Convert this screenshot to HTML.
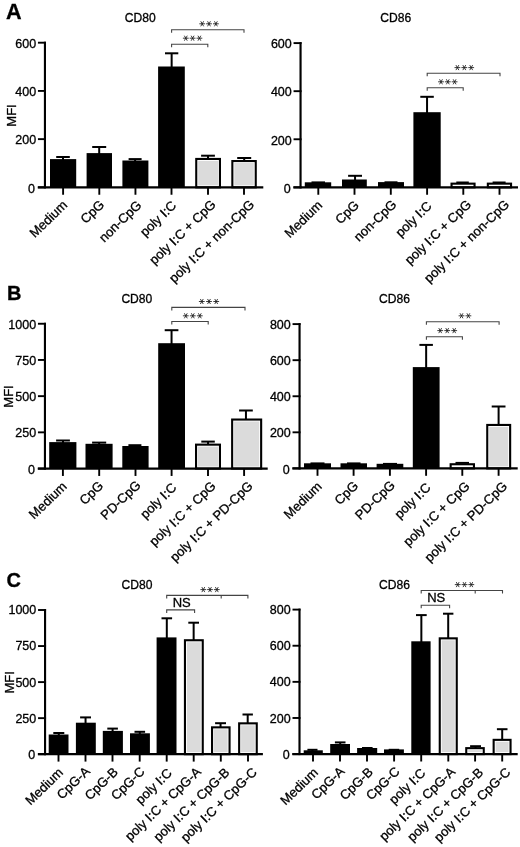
<!DOCTYPE html>
<html><head><meta charset="utf-8"><style>
html,body{margin:0;padding:0;background:#fff;}
body{width:520px;height:847px;overflow:hidden;}
svg{display:block;font-family:"Liberation Sans",sans-serif;will-change:transform;}
text{stroke:#000;stroke-width:0.3px;}
</style></head><body>
<svg width="520" height="847" viewBox="0 0 520 847">
<rect width="520" height="847" fill="#fff"/>
<line x1="44.95" y1="41.70" x2="44.95" y2="188.35" stroke="#000" stroke-width="2.15"/>
<line x1="37.95" y1="187.35" x2="45.95" y2="187.35" stroke="#000" stroke-width="1.9"/>
<text x="35.05" y="193.15" font-size="12.5" text-anchor="end" font-weight="normal" fill="#000" >0</text>
<line x1="37.95" y1="139.13" x2="45.95" y2="139.13" stroke="#000" stroke-width="1.9"/>
<text x="36.15" y="144.43" font-size="12.5" text-anchor="end" font-weight="normal" fill="#000" >200</text>
<line x1="37.95" y1="90.92" x2="45.95" y2="90.92" stroke="#000" stroke-width="1.9"/>
<text x="36.15" y="96.22" font-size="12.5" text-anchor="end" font-weight="normal" fill="#000" >400</text>
<line x1="37.95" y1="42.70" x2="45.95" y2="42.70" stroke="#000" stroke-width="1.9"/>
<text x="36.15" y="48.00" font-size="12.5" text-anchor="end" font-weight="normal" fill="#000" >600</text>
<line x1="63.00" y1="157.00" x2="63.00" y2="160.10" stroke="#000" stroke-width="2.0"/>
<line x1="56.20" y1="157.00" x2="69.80" y2="157.00" stroke="#000" stroke-width="2.0"/>
<rect x="50.00" y="159.10" width="26.20" height="28.25" fill="#000"/>
<line x1="99.20" y1="147.00" x2="99.20" y2="154.10" stroke="#000" stroke-width="2.0"/>
<line x1="92.20" y1="147.00" x2="106.20" y2="147.00" stroke="#000" stroke-width="2.0"/>
<rect x="86.60" y="153.10" width="25.40" height="34.25" fill="#000"/>
<line x1="135.10" y1="159.10" x2="135.10" y2="161.50" stroke="#000" stroke-width="2.0"/>
<line x1="128.60" y1="159.10" x2="141.60" y2="159.10" stroke="#000" stroke-width="2.0"/>
<rect x="122.40" y="160.50" width="26.00" height="26.85" fill="#000"/>
<line x1="171.65" y1="53.30" x2="171.65" y2="67.50" stroke="#000" stroke-width="2.0"/>
<line x1="165.00" y1="53.30" x2="178.30" y2="53.30" stroke="#000" stroke-width="2.0"/>
<rect x="158.10" y="66.50" width="26.70" height="120.85" fill="#000"/>
<line x1="208.00" y1="155.70" x2="208.00" y2="158.90" stroke="#000" stroke-width="2.0"/>
<line x1="201.10" y1="155.70" x2="214.90" y2="155.70" stroke="#000" stroke-width="2.0"/>
<rect x="196.25" y="158.95" width="23.70" height="28.40" fill="#fff" stroke="#000" stroke-width="2.1"/>
<rect x="198.20" y="160.90" width="19.80" height="24.45" fill="#dbdbdb"/>
<line x1="244.20" y1="158.00" x2="244.20" y2="161.00" stroke="#000" stroke-width="2.0"/>
<line x1="237.20" y1="158.00" x2="251.20" y2="158.00" stroke="#000" stroke-width="2.0"/>
<rect x="232.35" y="161.05" width="23.40" height="26.30" fill="#fff" stroke="#000" stroke-width="2.1"/>
<rect x="234.30" y="163.00" width="19.50" height="22.35" fill="#dbdbdb"/>
<line x1="37.75" y1="187.35" x2="263.30" y2="187.35" stroke="#000" stroke-width="2.2"/>
<line x1="63.10" y1="187.35" x2="63.10" y2="194.75" stroke="#000" stroke-width="1.9"/>
<line x1="99.30" y1="187.35" x2="99.30" y2="194.75" stroke="#000" stroke-width="1.9"/>
<line x1="135.45" y1="187.35" x2="135.45" y2="194.75" stroke="#000" stroke-width="1.9"/>
<line x1="171.50" y1="187.35" x2="171.50" y2="194.75" stroke="#000" stroke-width="1.9"/>
<line x1="208.00" y1="187.35" x2="208.00" y2="194.75" stroke="#000" stroke-width="1.9"/>
<line x1="244.00" y1="187.35" x2="244.00" y2="194.75" stroke="#000" stroke-width="1.9"/>
<text transform="translate(61.55,199.10) rotate(-44.0)" font-size="13.1" text-anchor="end" dominant-baseline="hanging">Medium</text>
<text transform="translate(98.50,198.75) rotate(-44.0)" font-size="13.1" text-anchor="end" dominant-baseline="hanging">CpG</text>
<text transform="translate(135.70,199.15) rotate(-44.0)" font-size="13.1" text-anchor="end" dominant-baseline="hanging">non-CpG</text>
<text transform="translate(170.50,199.55) rotate(-44.0)" font-size="13.1" text-anchor="end" dominant-baseline="hanging">poly I:C</text>
<text transform="translate(209.90,198.55) rotate(-44.0)" font-size="13.1" text-anchor="end" dominant-baseline="hanging">poly I:C + CpG</text>
<text transform="translate(248.40,198.55) rotate(-44.0)" font-size="13.1" text-anchor="end" dominant-baseline="hanging">poly I:C + non-CpG</text>
<text x="124.70" y="21.50" font-size="12.1" text-anchor="start" font-weight="normal" fill="#000" >CD80</text>
<text transform="translate(15.50,115.50) rotate(-90)" font-size="13.0" text-anchor="middle">MFI</text>
<path d="M171.60,32.80 V29.80 H244.00 V32.80" fill="none" stroke="#444" stroke-width="1.1"/>
<path d="M171.60,47.30 V44.30 H207.80 V47.30" fill="none" stroke="#444" stroke-width="1.1"/>
<path d="M199.30,23.80L205.10,23.80M200.75,21.29L203.65,26.31M203.65,21.29L200.75,26.31" stroke="#1a1a1a" stroke-width="0.85" fill="none"/>
<path d="M206.10,23.80L211.90,23.80M207.55,21.29L210.45,26.31M210.45,21.29L207.55,26.31" stroke="#1a1a1a" stroke-width="0.85" fill="none"/>
<path d="M213.00,23.80L218.80,23.80M214.45,21.29L217.35,26.31M217.35,21.29L214.45,26.31" stroke="#1a1a1a" stroke-width="0.85" fill="none"/>
<path d="M182.90,38.20L188.70,38.20M184.35,35.69L187.25,40.71M187.25,35.69L184.35,40.71" stroke="#1a1a1a" stroke-width="0.85" fill="none"/>
<path d="M189.70,38.20L195.50,38.20M191.15,35.69L194.05,40.71M194.05,35.69L191.15,40.71" stroke="#1a1a1a" stroke-width="0.85" fill="none"/>
<path d="M196.50,38.20L202.30,38.20M197.95,35.69L200.85,40.71M200.85,35.69L197.95,40.71" stroke="#1a1a1a" stroke-width="0.85" fill="none"/>
<line x1="300.55" y1="42.10" x2="300.55" y2="188.35" stroke="#000" stroke-width="2.15"/>
<line x1="293.55" y1="187.35" x2="301.55" y2="187.35" stroke="#000" stroke-width="1.9"/>
<text x="290.65" y="193.15" font-size="12.5" text-anchor="end" font-weight="normal" fill="#000" >0</text>
<line x1="293.55" y1="139.27" x2="301.55" y2="139.27" stroke="#000" stroke-width="1.9"/>
<text x="291.75" y="144.57" font-size="12.5" text-anchor="end" font-weight="normal" fill="#000" >200</text>
<line x1="293.55" y1="91.18" x2="301.55" y2="91.18" stroke="#000" stroke-width="1.9"/>
<text x="291.75" y="96.48" font-size="12.5" text-anchor="end" font-weight="normal" fill="#000" >400</text>
<line x1="293.55" y1="43.10" x2="301.55" y2="43.10" stroke="#000" stroke-width="1.9"/>
<text x="291.75" y="48.40" font-size="12.5" text-anchor="end" font-weight="normal" fill="#000" >600</text>
<line x1="311.50" y1="182.40" x2="325.00" y2="182.40" stroke="#000" stroke-width="2.0"/>
<rect x="304.80" y="182.30" width="26.40" height="5.05" fill="#000"/>
<line x1="355.05" y1="175.80" x2="355.05" y2="180.50" stroke="#000" stroke-width="2.0"/>
<line x1="348.10" y1="175.80" x2="362.00" y2="175.80" stroke="#000" stroke-width="2.0"/>
<rect x="342.00" y="179.50" width="24.80" height="7.85" fill="#000"/>
<line x1="384.50" y1="182.30" x2="397.50" y2="182.30" stroke="#000" stroke-width="2.0"/>
<rect x="378.00" y="182.10" width="26.00" height="5.25" fill="#000"/>
<line x1="427.05" y1="96.80" x2="427.05" y2="113.20" stroke="#000" stroke-width="2.0"/>
<line x1="420.30" y1="96.80" x2="433.80" y2="96.80" stroke="#000" stroke-width="2.0"/>
<rect x="413.40" y="112.20" width="27.30" height="75.15" fill="#000"/>
<line x1="456.30" y1="182.50" x2="468.80" y2="182.50" stroke="#000" stroke-width="2.0"/>
<rect x="451.55" y="183.65" width="23.00" height="3.70" fill="#fff" stroke="#000" stroke-width="2.1"/>
<line x1="492.60" y1="182.50" x2="505.60" y2="182.50" stroke="#000" stroke-width="2.0"/>
<rect x="487.85" y="183.65" width="23.20" height="3.70" fill="#fff" stroke="#000" stroke-width="2.1"/>
<line x1="293.35" y1="187.35" x2="518.00" y2="187.35" stroke="#000" stroke-width="2.2"/>
<line x1="318.30" y1="187.35" x2="318.30" y2="194.75" stroke="#000" stroke-width="1.9"/>
<line x1="354.50" y1="187.35" x2="354.50" y2="194.75" stroke="#000" stroke-width="1.9"/>
<line x1="390.80" y1="187.35" x2="390.80" y2="194.75" stroke="#000" stroke-width="1.9"/>
<line x1="427.10" y1="187.35" x2="427.10" y2="194.75" stroke="#000" stroke-width="1.9"/>
<line x1="463.30" y1="187.35" x2="463.30" y2="194.75" stroke="#000" stroke-width="1.9"/>
<line x1="499.50" y1="187.35" x2="499.50" y2="194.75" stroke="#000" stroke-width="1.9"/>
<text transform="translate(316.55,199.30) rotate(-44.0)" font-size="13.1" text-anchor="end" dominant-baseline="hanging">Medium</text>
<text transform="translate(353.20,199.25) rotate(-44.0)" font-size="13.1" text-anchor="end" dominant-baseline="hanging">CpG</text>
<text transform="translate(390.60,198.55) rotate(-44.0)" font-size="13.1" text-anchor="end" dominant-baseline="hanging">non-CpG</text>
<text transform="translate(425.90,200.05) rotate(-44.0)" font-size="13.1" text-anchor="end" dominant-baseline="hanging">poly I:C</text>
<text transform="translate(465.30,198.55) rotate(-44.0)" font-size="13.1" text-anchor="end" dominant-baseline="hanging">poly I:C + CpG</text>
<text transform="translate(503.40,198.55) rotate(-44.0)" font-size="13.1" text-anchor="end" dominant-baseline="hanging">poly I:C + non-CpG</text>
<text x="380.30" y="21.50" font-size="12.1" text-anchor="start" font-weight="normal" fill="#000" >CD86</text>
<path d="M427.20,76.30 V73.30 H500.00 V76.30" fill="none" stroke="#444" stroke-width="1.1"/>
<path d="M427.20,90.70 V87.70 H463.20 V90.70" fill="none" stroke="#444" stroke-width="1.1"/>
<path d="M454.50,67.60L460.30,67.60M455.95,65.09L458.85,70.11M458.85,65.09L455.95,70.11" stroke="#1a1a1a" stroke-width="0.85" fill="none"/>
<path d="M461.40,67.60L467.20,67.60M462.85,65.09L465.75,70.11M465.75,65.09L462.85,70.11" stroke="#1a1a1a" stroke-width="0.85" fill="none"/>
<path d="M468.30,67.60L474.10,67.60M469.75,65.09L472.65,70.11M472.65,65.09L469.75,70.11" stroke="#1a1a1a" stroke-width="0.85" fill="none"/>
<path d="M438.10,81.80L443.90,81.80M439.55,79.29L442.45,84.31M442.45,79.29L439.55,84.31" stroke="#1a1a1a" stroke-width="0.85" fill="none"/>
<path d="M444.90,81.80L450.70,81.80M446.35,79.29L449.25,84.31M449.25,79.29L446.35,84.31" stroke="#1a1a1a" stroke-width="0.85" fill="none"/>
<path d="M451.70,81.80L457.50,81.80M453.15,79.29L456.05,84.31M456.05,79.29L453.15,84.31" stroke="#1a1a1a" stroke-width="0.85" fill="none"/>
<text x="6.10" y="18.60" font-size="21.6" text-anchor="start" font-weight="bold" fill="#000" >A</text>
<line x1="44.95" y1="322.75" x2="44.95" y2="469.55" stroke="#000" stroke-width="2.15"/>
<line x1="37.95" y1="468.55" x2="45.95" y2="468.55" stroke="#000" stroke-width="1.9"/>
<text x="35.05" y="473.80" font-size="12.5" text-anchor="end" font-weight="normal" fill="#000" >0</text>
<line x1="37.95" y1="432.35" x2="45.95" y2="432.35" stroke="#000" stroke-width="1.9"/>
<text x="36.15" y="437.10" font-size="12.5" text-anchor="end" font-weight="normal" fill="#000" >250</text>
<line x1="37.95" y1="396.15" x2="45.95" y2="396.15" stroke="#000" stroke-width="1.9"/>
<text x="36.15" y="400.90" font-size="12.5" text-anchor="end" font-weight="normal" fill="#000" >500</text>
<line x1="37.95" y1="359.95" x2="45.95" y2="359.95" stroke="#000" stroke-width="1.9"/>
<text x="36.15" y="364.70" font-size="12.5" text-anchor="end" font-weight="normal" fill="#000" >750</text>
<line x1="37.95" y1="323.75" x2="45.95" y2="323.75" stroke="#000" stroke-width="1.9"/>
<text x="36.15" y="328.50" font-size="12.5" text-anchor="end" font-weight="normal" fill="#000" >1000</text>
<line x1="63.00" y1="440.50" x2="63.00" y2="443.10" stroke="#000" stroke-width="2.0"/>
<line x1="56.10" y1="440.50" x2="69.90" y2="440.50" stroke="#000" stroke-width="2.0"/>
<rect x="49.20" y="442.10" width="27.20" height="26.45" fill="#000"/>
<line x1="99.15" y1="442.60" x2="99.15" y2="444.80" stroke="#000" stroke-width="2.0"/>
<line x1="92.10" y1="442.60" x2="106.20" y2="442.60" stroke="#000" stroke-width="2.0"/>
<rect x="85.50" y="443.80" width="27.10" height="24.75" fill="#000"/>
<line x1="134.90" y1="445.20" x2="134.90" y2="447.00" stroke="#000" stroke-width="2.0"/>
<line x1="128.40" y1="445.20" x2="141.40" y2="445.20" stroke="#000" stroke-width="2.0"/>
<rect x="122.30" y="446.00" width="26.30" height="22.55" fill="#000"/>
<line x1="171.55" y1="330.20" x2="171.55" y2="344.20" stroke="#000" stroke-width="2.0"/>
<line x1="164.70" y1="330.20" x2="178.40" y2="330.20" stroke="#000" stroke-width="2.0"/>
<rect x="158.20" y="343.20" width="26.80" height="125.35" fill="#000"/>
<line x1="208.05" y1="441.60" x2="208.05" y2="444.60" stroke="#000" stroke-width="2.0"/>
<line x1="201.30" y1="441.60" x2="214.80" y2="441.60" stroke="#000" stroke-width="2.0"/>
<rect x="196.05" y="444.65" width="23.90" height="23.90" fill="#fff" stroke="#000" stroke-width="2.1"/>
<rect x="198.00" y="446.60" width="20.00" height="19.95" fill="#dbdbdb"/>
<line x1="245.95" y1="410.50" x2="245.95" y2="419.50" stroke="#000" stroke-width="2.0"/>
<line x1="239.10" y1="410.50" x2="252.80" y2="410.50" stroke="#000" stroke-width="2.0"/>
<rect x="232.15" y="419.55" width="29.00" height="49.00" fill="#fff" stroke="#000" stroke-width="2.1"/>
<rect x="234.10" y="421.50" width="25.10" height="45.05" fill="#dbdbdb"/>
<line x1="37.75" y1="468.55" x2="267.70" y2="468.55" stroke="#000" stroke-width="2.2"/>
<line x1="62.90" y1="468.55" x2="62.90" y2="475.95" stroke="#000" stroke-width="1.9"/>
<line x1="99.20" y1="468.55" x2="99.20" y2="475.95" stroke="#000" stroke-width="1.9"/>
<line x1="135.50" y1="468.55" x2="135.50" y2="475.95" stroke="#000" stroke-width="1.9"/>
<line x1="171.60" y1="468.55" x2="171.60" y2="475.95" stroke="#000" stroke-width="1.9"/>
<line x1="208.00" y1="468.55" x2="208.00" y2="475.95" stroke="#000" stroke-width="1.9"/>
<line x1="244.10" y1="468.55" x2="244.10" y2="475.95" stroke="#000" stroke-width="1.9"/>
<text transform="translate(60.95,480.50) rotate(-44.0)" font-size="13.1" text-anchor="end" dominant-baseline="hanging">Medium</text>
<text transform="translate(97.50,479.85) rotate(-44.0)" font-size="13.1" text-anchor="end" dominant-baseline="hanging">CpG</text>
<text transform="translate(134.80,479.15) rotate(-44.0)" font-size="13.1" text-anchor="end" dominant-baseline="hanging">PD-CpG</text>
<text transform="translate(170.70,481.65) rotate(-44.0)" font-size="13.1" text-anchor="end" dominant-baseline="hanging">poly I:C</text>
<text transform="translate(210.00,480.05) rotate(-44.0)" font-size="13.1" text-anchor="end" dominant-baseline="hanging">poly I:C + CpG</text>
<text transform="translate(246.90,480.05) rotate(-44.0)" font-size="13.1" text-anchor="end" dominant-baseline="hanging">poly I:C + PD-CpG</text>
<text x="121.40" y="303.10" font-size="12.1" text-anchor="start" font-weight="normal" fill="#000" >CD80</text>
<text transform="translate(13.00,396.50) rotate(-90)" font-size="13.0" text-anchor="middle">MFI</text>
<path d="M171.80,310.40 V307.40 H245.00 V310.40" fill="none" stroke="#444" stroke-width="1.1"/>
<path d="M171.80,324.50 V321.50 H208.20 V324.50" fill="none" stroke="#444" stroke-width="1.1"/>
<path d="M198.90,301.50L204.70,301.50M200.35,298.99L203.25,304.01M203.25,298.99L200.35,304.01" stroke="#1a1a1a" stroke-width="0.85" fill="none"/>
<path d="M206.10,301.50L211.90,301.50M207.55,298.99L210.45,304.01M210.45,298.99L207.55,304.01" stroke="#1a1a1a" stroke-width="0.85" fill="none"/>
<path d="M213.30,301.50L219.10,301.50M214.75,298.99L217.65,304.01M217.65,298.99L214.75,304.01" stroke="#1a1a1a" stroke-width="0.85" fill="none"/>
<path d="M182.90,315.80L188.70,315.80M184.35,313.29L187.25,318.31M187.25,313.29L184.35,318.31" stroke="#1a1a1a" stroke-width="0.85" fill="none"/>
<path d="M189.90,315.80L195.70,315.80M191.35,313.29L194.25,318.31M194.25,313.29L191.35,318.31" stroke="#1a1a1a" stroke-width="0.85" fill="none"/>
<path d="M196.90,315.80L202.70,315.80M198.35,313.29L201.25,318.31M201.25,313.29L198.35,318.31" stroke="#1a1a1a" stroke-width="0.85" fill="none"/>
<line x1="299.55" y1="323.10" x2="299.55" y2="469.40" stroke="#000" stroke-width="2.15"/>
<line x1="292.55" y1="468.40" x2="300.55" y2="468.40" stroke="#000" stroke-width="1.9"/>
<text x="289.65" y="473.65" font-size="12.5" text-anchor="end" font-weight="normal" fill="#000" >0</text>
<line x1="292.55" y1="432.32" x2="300.55" y2="432.32" stroke="#000" stroke-width="1.9"/>
<text x="290.75" y="437.07" font-size="12.5" text-anchor="end" font-weight="normal" fill="#000" >200</text>
<line x1="292.55" y1="396.25" x2="300.55" y2="396.25" stroke="#000" stroke-width="1.9"/>
<text x="290.75" y="401.00" font-size="12.5" text-anchor="end" font-weight="normal" fill="#000" >400</text>
<line x1="292.55" y1="360.18" x2="300.55" y2="360.18" stroke="#000" stroke-width="1.9"/>
<text x="290.75" y="364.93" font-size="12.5" text-anchor="end" font-weight="normal" fill="#000" >600</text>
<line x1="292.55" y1="324.10" x2="300.55" y2="324.10" stroke="#000" stroke-width="1.9"/>
<text x="290.75" y="328.85" font-size="12.5" text-anchor="end" font-weight="normal" fill="#000" >800</text>
<line x1="310.50" y1="463.40" x2="324.50" y2="463.40" stroke="#000" stroke-width="2.0"/>
<rect x="304.00" y="463.30" width="27.00" height="5.10" fill="#000"/>
<line x1="347.00" y1="463.40" x2="360.50" y2="463.40" stroke="#000" stroke-width="2.0"/>
<rect x="340.50" y="463.30" width="26.50" height="5.10" fill="#000"/>
<line x1="383.00" y1="463.90" x2="397.00" y2="463.90" stroke="#000" stroke-width="2.0"/>
<rect x="376.60" y="463.80" width="26.70" height="4.60" fill="#000"/>
<line x1="426.15" y1="344.90" x2="426.15" y2="368.10" stroke="#000" stroke-width="2.0"/>
<line x1="419.40" y1="344.90" x2="432.90" y2="344.90" stroke="#000" stroke-width="2.0"/>
<rect x="412.80" y="367.10" width="26.80" height="101.30" fill="#000"/>
<line x1="455.50" y1="462.90" x2="469.00" y2="462.90" stroke="#000" stroke-width="2.0"/>
<rect x="450.65" y="464.25" width="23.30" height="4.15" fill="#fff" stroke="#000" stroke-width="2.1"/>
<line x1="498.60" y1="406.50" x2="498.60" y2="424.90" stroke="#000" stroke-width="2.0"/>
<line x1="491.70" y1="406.50" x2="505.50" y2="406.50" stroke="#000" stroke-width="2.0"/>
<rect x="487.25" y="424.95" width="22.90" height="43.45" fill="#fff" stroke="#000" stroke-width="2.1"/>
<rect x="489.20" y="426.90" width="19.00" height="39.50" fill="#dbdbdb"/>
<line x1="292.35" y1="468.40" x2="517.70" y2="468.40" stroke="#000" stroke-width="2.2"/>
<line x1="317.50" y1="468.40" x2="317.50" y2="475.80" stroke="#000" stroke-width="1.9"/>
<line x1="353.60" y1="468.40" x2="353.60" y2="475.80" stroke="#000" stroke-width="1.9"/>
<line x1="389.90" y1="468.40" x2="389.90" y2="475.80" stroke="#000" stroke-width="1.9"/>
<line x1="426.10" y1="468.40" x2="426.10" y2="475.80" stroke="#000" stroke-width="1.9"/>
<line x1="462.30" y1="468.40" x2="462.30" y2="475.80" stroke="#000" stroke-width="1.9"/>
<line x1="498.60" y1="468.40" x2="498.60" y2="475.80" stroke="#000" stroke-width="1.9"/>
<text transform="translate(315.95,480.50) rotate(-44.0)" font-size="13.1" text-anchor="end" dominant-baseline="hanging">Medium</text>
<text transform="translate(352.50,479.85) rotate(-44.0)" font-size="13.1" text-anchor="end" dominant-baseline="hanging">CpG</text>
<text transform="translate(389.10,479.15) rotate(-44.0)" font-size="13.1" text-anchor="end" dominant-baseline="hanging">PD-CpG</text>
<text transform="translate(424.90,481.65) rotate(-44.0)" font-size="13.1" text-anchor="end" dominant-baseline="hanging">poly I:C</text>
<text transform="translate(463.80,480.25) rotate(-44.0)" font-size="13.1" text-anchor="end" dominant-baseline="hanging">poly I:C + CpG</text>
<text transform="translate(501.30,480.25) rotate(-44.0)" font-size="13.1" text-anchor="end" dominant-baseline="hanging">poly I:C + PD-CpG</text>
<text x="379.00" y="302.80" font-size="12.1" text-anchor="start" font-weight="normal" fill="#000" >CD86</text>
<path d="M426.40,324.80 V321.80 H499.10 V324.80" fill="none" stroke="#444" stroke-width="1.1"/>
<path d="M426.40,339.70 V336.70 H462.40 V339.70" fill="none" stroke="#444" stroke-width="1.1"/>
<path d="M458.60,315.80L464.40,315.80M460.05,313.29L462.95,318.31M462.95,313.29L460.05,318.31" stroke="#1a1a1a" stroke-width="0.85" fill="none"/>
<path d="M465.50,315.80L471.30,315.80M466.95,313.29L469.85,318.31M469.85,313.29L466.95,318.31" stroke="#1a1a1a" stroke-width="0.85" fill="none"/>
<path d="M437.30,330.60L443.10,330.60M438.75,328.09L441.65,333.11M441.65,328.09L438.75,333.11" stroke="#1a1a1a" stroke-width="0.85" fill="none"/>
<path d="M444.30,330.60L450.10,330.60M445.75,328.09L448.65,333.11M448.65,328.09L445.75,333.11" stroke="#1a1a1a" stroke-width="0.85" fill="none"/>
<path d="M451.30,330.60L457.10,330.60M452.75,328.09L455.65,333.11M455.65,328.09L452.75,333.11" stroke="#1a1a1a" stroke-width="0.85" fill="none"/>
<text x="7.00" y="300.30" font-size="20" text-anchor="start" font-weight="bold" fill="#000" >B</text>
<line x1="45.05" y1="609.00" x2="45.05" y2="755.20" stroke="#000" stroke-width="2.15"/>
<line x1="38.05" y1="754.20" x2="46.05" y2="754.20" stroke="#000" stroke-width="1.9"/>
<text x="35.15" y="759.10" font-size="12.5" text-anchor="end" font-weight="normal" fill="#000" >0</text>
<line x1="38.05" y1="718.15" x2="46.05" y2="718.15" stroke="#000" stroke-width="1.9"/>
<text x="36.25" y="722.55" font-size="12.5" text-anchor="end" font-weight="normal" fill="#000" >250</text>
<line x1="38.05" y1="682.10" x2="46.05" y2="682.10" stroke="#000" stroke-width="1.9"/>
<text x="36.25" y="686.50" font-size="12.5" text-anchor="end" font-weight="normal" fill="#000" >500</text>
<line x1="38.05" y1="646.05" x2="46.05" y2="646.05" stroke="#000" stroke-width="1.9"/>
<text x="36.25" y="650.45" font-size="12.5" text-anchor="end" font-weight="normal" fill="#000" >750</text>
<line x1="38.05" y1="610.00" x2="46.05" y2="610.00" stroke="#000" stroke-width="1.9"/>
<text x="36.25" y="614.40" font-size="12.5" text-anchor="end" font-weight="normal" fill="#000" >1000</text>
<line x1="58.80" y1="733.00" x2="58.80" y2="735.50" stroke="#000" stroke-width="2.0"/>
<line x1="53.30" y1="733.00" x2="64.30" y2="733.00" stroke="#000" stroke-width="2.0"/>
<rect x="48.70" y="734.50" width="19.80" height="19.70" fill="#000"/>
<line x1="85.55" y1="717.40" x2="85.55" y2="723.70" stroke="#000" stroke-width="2.0"/>
<line x1="80.10" y1="717.40" x2="91.00" y2="717.40" stroke="#000" stroke-width="2.0"/>
<rect x="75.90" y="722.70" width="19.90" height="31.50" fill="#000"/>
<line x1="112.60" y1="728.60" x2="112.60" y2="731.90" stroke="#000" stroke-width="2.0"/>
<line x1="107.30" y1="728.60" x2="117.90" y2="728.60" stroke="#000" stroke-width="2.0"/>
<rect x="102.80" y="730.90" width="20.10" height="23.30" fill="#000"/>
<line x1="139.80" y1="731.80" x2="139.80" y2="734.30" stroke="#000" stroke-width="2.0"/>
<line x1="134.50" y1="731.80" x2="145.10" y2="731.80" stroke="#000" stroke-width="2.0"/>
<rect x="130.00" y="733.30" width="19.90" height="20.90" fill="#000"/>
<line x1="166.80" y1="618.30" x2="166.80" y2="638.40" stroke="#000" stroke-width="2.0"/>
<line x1="161.50" y1="618.30" x2="172.10" y2="618.30" stroke="#000" stroke-width="2.0"/>
<rect x="156.60" y="637.40" width="19.90" height="116.80" fill="#000"/>
<line x1="193.65" y1="622.70" x2="193.65" y2="640.20" stroke="#000" stroke-width="2.0"/>
<line x1="188.30" y1="622.70" x2="199.00" y2="622.70" stroke="#000" stroke-width="2.0"/>
<rect x="184.95" y="640.25" width="17.80" height="113.95" fill="#fff" stroke="#000" stroke-width="2.1"/>
<rect x="186.90" y="642.20" width="13.90" height="110.00" fill="#dbdbdb"/>
<line x1="220.55" y1="723.20" x2="220.55" y2="727.30" stroke="#000" stroke-width="2.0"/>
<line x1="215.10" y1="723.20" x2="226.00" y2="723.20" stroke="#000" stroke-width="2.0"/>
<rect x="212.05" y="727.35" width="17.50" height="26.85" fill="#fff" stroke="#000" stroke-width="2.1"/>
<rect x="214.00" y="729.30" width="13.60" height="22.90" fill="#dbdbdb"/>
<line x1="247.70" y1="714.50" x2="247.70" y2="723.30" stroke="#000" stroke-width="2.0"/>
<line x1="242.50" y1="714.50" x2="252.90" y2="714.50" stroke="#000" stroke-width="2.0"/>
<rect x="239.15" y="723.35" width="17.60" height="30.85" fill="#fff" stroke="#000" stroke-width="2.1"/>
<rect x="241.10" y="725.30" width="13.70" height="26.90" fill="#dbdbdb"/>
<line x1="37.85" y1="754.20" x2="262.90" y2="754.20" stroke="#000" stroke-width="2.2"/>
<line x1="58.50" y1="754.20" x2="58.50" y2="761.60" stroke="#000" stroke-width="1.9"/>
<line x1="85.50" y1="754.20" x2="85.50" y2="761.60" stroke="#000" stroke-width="1.9"/>
<line x1="112.50" y1="754.20" x2="112.50" y2="761.60" stroke="#000" stroke-width="1.9"/>
<line x1="139.70" y1="754.20" x2="139.70" y2="761.60" stroke="#000" stroke-width="1.9"/>
<line x1="166.70" y1="754.20" x2="166.70" y2="761.60" stroke="#000" stroke-width="1.9"/>
<line x1="193.70" y1="754.20" x2="193.70" y2="761.60" stroke="#000" stroke-width="1.9"/>
<line x1="220.80" y1="754.20" x2="220.80" y2="761.60" stroke="#000" stroke-width="1.9"/>
<line x1="248.00" y1="754.20" x2="248.00" y2="761.60" stroke="#000" stroke-width="1.9"/>
<text transform="translate(57.25,766.60) rotate(-44.0)" font-size="13.1" text-anchor="end" dominant-baseline="hanging">Medium</text>
<text transform="translate(84.05,765.25) rotate(-44.0)" font-size="13.1" text-anchor="end" dominant-baseline="hanging">CpG-A</text>
<text transform="translate(112.05,766.00) rotate(-44.0)" font-size="13.1" text-anchor="end" dominant-baseline="hanging">CpG-B</text>
<text transform="translate(138.90,765.55) rotate(-44.0)" font-size="13.1" text-anchor="end" dominant-baseline="hanging">CpG-C</text>
<text transform="translate(166.10,767.15) rotate(-44.0)" font-size="13.1" text-anchor="end" dominant-baseline="hanging">poly I:C</text>
<text transform="translate(195.15,765.65) rotate(-44.0)" font-size="13.1" text-anchor="end" dominant-baseline="hanging">poly I:C + CpG-A</text>
<text transform="translate(223.65,766.40) rotate(-44.0)" font-size="13.1" text-anchor="end" dominant-baseline="hanging">poly I:C + CpG-B</text>
<text transform="translate(251.20,766.25) rotate(-44.0)" font-size="13.1" text-anchor="end" dominant-baseline="hanging">poly I:C + CpG-C</text>
<text x="121.50" y="588.50" font-size="12.1" text-anchor="start" font-weight="normal" fill="#000" >CD80</text>
<text transform="translate(13.50,682.40) rotate(-90)" font-size="13.0" text-anchor="middle">MFI</text>
<path d="M166.70,598.40 V595.40 H247.90 V598.40" fill="none" stroke="#444" stroke-width="1.1"/>
<line x1="221.20" y1="595.40" x2="221.20" y2="598.40" stroke="#444" stroke-width="1.1"/>
<path d="M166.70,612.90 V609.90 H194.60 V612.90" fill="none" stroke="#444" stroke-width="1.1"/>
<path d="M200.40,589.60L206.20,589.60M201.85,587.09L204.75,592.11M204.75,587.09L201.85,592.11" stroke="#1a1a1a" stroke-width="0.85" fill="none"/>
<path d="M207.10,589.60L212.90,589.60M208.55,587.09L211.45,592.11M211.45,587.09L208.55,592.11" stroke="#1a1a1a" stroke-width="0.85" fill="none"/>
<path d="M213.90,589.60L219.70,589.60M215.35,587.09L218.25,592.11M218.25,587.09L215.35,592.11" stroke="#1a1a1a" stroke-width="0.85" fill="none"/>
<text x="181.70" y="606.90" font-size="13.0" text-anchor="middle" font-weight="normal" fill="#000" >NS</text>
<line x1="299.50" y1="608.60" x2="299.50" y2="755.10" stroke="#000" stroke-width="2.15"/>
<line x1="292.50" y1="754.10" x2="300.50" y2="754.10" stroke="#000" stroke-width="1.9"/>
<text x="289.60" y="759.20" font-size="12.5" text-anchor="end" font-weight="normal" fill="#000" >0</text>
<line x1="292.50" y1="717.98" x2="300.50" y2="717.98" stroke="#000" stroke-width="1.9"/>
<text x="290.70" y="722.58" font-size="12.5" text-anchor="end" font-weight="normal" fill="#000" >200</text>
<line x1="292.50" y1="681.85" x2="300.50" y2="681.85" stroke="#000" stroke-width="1.9"/>
<text x="290.70" y="686.45" font-size="12.5" text-anchor="end" font-weight="normal" fill="#000" >400</text>
<line x1="292.50" y1="645.73" x2="300.50" y2="645.73" stroke="#000" stroke-width="1.9"/>
<text x="290.70" y="650.33" font-size="12.5" text-anchor="end" font-weight="normal" fill="#000" >600</text>
<line x1="292.50" y1="609.60" x2="300.50" y2="609.60" stroke="#000" stroke-width="1.9"/>
<text x="290.70" y="614.20" font-size="12.5" text-anchor="end" font-weight="normal" fill="#000" >800</text>
<line x1="312.45" y1="749.80" x2="312.45" y2="751.30" stroke="#000" stroke-width="2.0"/>
<line x1="307.40" y1="749.80" x2="317.50" y2="749.80" stroke="#000" stroke-width="2.0"/>
<rect x="303.70" y="750.30" width="19.10" height="3.80" fill="#000"/>
<line x1="340.20" y1="742.40" x2="340.20" y2="745.00" stroke="#000" stroke-width="2.0"/>
<line x1="334.90" y1="742.40" x2="345.50" y2="742.40" stroke="#000" stroke-width="2.0"/>
<rect x="330.20" y="744.00" width="19.80" height="10.10" fill="#000"/>
<line x1="362.00" y1="748.00" x2="372.60" y2="748.00" stroke="#000" stroke-width="2.0"/>
<rect x="357.10" y="748.00" width="20.10" height="6.10" fill="#000"/>
<line x1="388.70" y1="749.80" x2="399.20" y2="749.80" stroke="#000" stroke-width="2.0"/>
<rect x="384.00" y="749.40" width="19.90" height="4.70" fill="#000"/>
<line x1="421.35" y1="615.10" x2="421.35" y2="642.30" stroke="#000" stroke-width="2.0"/>
<line x1="416.00" y1="615.10" x2="426.70" y2="615.10" stroke="#000" stroke-width="2.0"/>
<rect x="411.30" y="641.30" width="19.30" height="112.80" fill="#000"/>
<line x1="448.20" y1="613.70" x2="448.20" y2="638.30" stroke="#000" stroke-width="2.0"/>
<line x1="443.00" y1="613.70" x2="453.40" y2="613.70" stroke="#000" stroke-width="2.0"/>
<rect x="439.75" y="638.35" width="17.00" height="115.75" fill="#fff" stroke="#000" stroke-width="2.1"/>
<rect x="441.70" y="640.30" width="13.10" height="111.80" fill="#dbdbdb"/>
<line x1="475.55" y1="746.20" x2="475.55" y2="748.10" stroke="#000" stroke-width="2.0"/>
<line x1="470.10" y1="746.20" x2="481.00" y2="746.20" stroke="#000" stroke-width="2.0"/>
<rect x="466.25" y="748.15" width="17.50" height="5.95" fill="#fff" stroke="#000" stroke-width="2.1"/>
<rect x="468.20" y="750.10" width="13.60" height="2.00" fill="#dbdbdb"/>
<line x1="502.20" y1="729.20" x2="502.20" y2="739.80" stroke="#000" stroke-width="2.0"/>
<line x1="496.90" y1="729.20" x2="507.50" y2="729.20" stroke="#000" stroke-width="2.0"/>
<rect x="493.65" y="739.85" width="16.90" height="14.25" fill="#fff" stroke="#000" stroke-width="2.1"/>
<rect x="495.60" y="741.80" width="13.00" height="10.30" fill="#dbdbdb"/>
<line x1="292.30" y1="754.10" x2="517.70" y2="754.10" stroke="#000" stroke-width="2.2"/>
<line x1="313.00" y1="754.10" x2="313.00" y2="761.50" stroke="#000" stroke-width="1.9"/>
<line x1="340.00" y1="754.10" x2="340.00" y2="761.50" stroke="#000" stroke-width="1.9"/>
<line x1="367.00" y1="754.10" x2="367.00" y2="761.50" stroke="#000" stroke-width="1.9"/>
<line x1="394.10" y1="754.10" x2="394.10" y2="761.50" stroke="#000" stroke-width="1.9"/>
<line x1="421.20" y1="754.10" x2="421.20" y2="761.50" stroke="#000" stroke-width="1.9"/>
<line x1="448.30" y1="754.10" x2="448.30" y2="761.50" stroke="#000" stroke-width="1.9"/>
<line x1="475.10" y1="754.10" x2="475.10" y2="761.50" stroke="#000" stroke-width="1.9"/>
<line x1="502.20" y1="754.10" x2="502.20" y2="761.50" stroke="#000" stroke-width="1.9"/>
<text transform="translate(312.25,766.60) rotate(-44.0)" font-size="13.1" text-anchor="end" dominant-baseline="hanging">Medium</text>
<text transform="translate(338.55,765.25) rotate(-44.0)" font-size="13.1" text-anchor="end" dominant-baseline="hanging">CpG-A</text>
<text transform="translate(367.05,766.00) rotate(-44.0)" font-size="13.1" text-anchor="end" dominant-baseline="hanging">CpG-B</text>
<text transform="translate(393.90,765.55) rotate(-44.0)" font-size="13.1" text-anchor="end" dominant-baseline="hanging">CpG-C</text>
<text transform="translate(419.60,767.15) rotate(-44.0)" font-size="13.1" text-anchor="end" dominant-baseline="hanging">poly I:C</text>
<text transform="translate(449.35,765.65) rotate(-44.0)" font-size="13.1" text-anchor="end" dominant-baseline="hanging">poly I:C + CpG-A</text>
<text transform="translate(477.35,766.40) rotate(-44.0)" font-size="13.1" text-anchor="end" dominant-baseline="hanging">poly I:C + CpG-B</text>
<text transform="translate(504.60,766.25) rotate(-44.0)" font-size="13.1" text-anchor="end" dominant-baseline="hanging">poly I:C + CpG-C</text>
<text x="379.00" y="588.50" font-size="12.1" text-anchor="start" font-weight="normal" fill="#000" >CD86</text>
<path d="M421.20,593.50 V590.50 H502.50 V593.50" fill="none" stroke="#444" stroke-width="1.1"/>
<line x1="475.20" y1="590.50" x2="475.20" y2="593.50" stroke="#444" stroke-width="1.1"/>
<path d="M421.20,608.30 V605.30 H449.60 V608.30" fill="none" stroke="#444" stroke-width="1.1"/>
<path d="M454.80,584.60L460.60,584.60M456.25,582.09L459.15,587.11M459.15,582.09L456.25,587.11" stroke="#1a1a1a" stroke-width="0.85" fill="none"/>
<path d="M461.60,584.60L467.40,584.60M463.05,582.09L465.95,587.11M465.95,582.09L463.05,587.11" stroke="#1a1a1a" stroke-width="0.85" fill="none"/>
<path d="M468.40,584.60L474.20,584.60M469.85,582.09L472.75,587.11M472.75,582.09L469.85,587.11" stroke="#1a1a1a" stroke-width="0.85" fill="none"/>
<text x="436.20" y="601.90" font-size="13.0" text-anchor="middle" font-weight="normal" fill="#000" >NS</text>
<text x="6.50" y="586.90" font-size="20" text-anchor="start" font-weight="bold" fill="#000" >C</text>
</svg>
</body></html>
